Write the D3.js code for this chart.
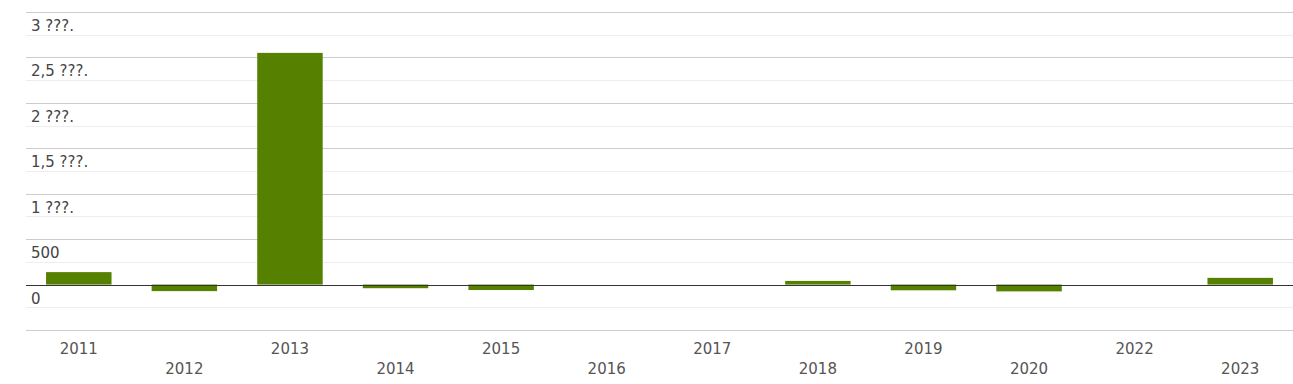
<!DOCTYPE html>
<html>
<head>
<meta charset="utf-8">
<script src="https://cdn.jsdelivr.net/npm/d3@7"></script>
<style>
  body { margin: 0; background: #fff; }
  text { font-family: "DejaVu Sans", sans-serif; }
</style>
</head>
<body>
<script>
// values
var years = ["2011", "2012", "2013", "2014", "2015", "2016", "2017", "2018", "2019", "2020", "2022", "2023"];
var values = [137, -72, 2550, -40, -60, 0, 0, 40, -63, -75, 0, 74];
var majorTicks = [-500, 0, 500, 1000, 1500, 2000, 2500, 3000];
var minorTicks = [-250, 250, 750, 1250, 1750, 2250, 2750];
var tickLabels = ["", "0", "500", "1 ???.", "1,5 ???.", "2 ???.", "2,5 ???.", "3 ???."];

var W = 1293, H = 384;
var margin = {left: 26, right: 0, top: 12, bottom: 54};

var svg = d3.select("body").append("svg")
            .attr("width", W)
            .attr("height", H);

var x = d3.scaleBand()
          .domain(years)
          .range([margin.left, W - margin.right])
          .paddingInner(0.38)
          .paddingOuter(0.19);

var y = d3.scaleLinear()
          .domain([-500, 3000])
          .range([H - margin.bottom, margin.top]);

// minor grid
svg.append("g").selectAll("line")
   .data(minorTicks).enter().append("line")
   .attr("x1", margin.left).attr("x2", W)
   .attr("y1", function(d) { return Math.round(y(d)) + 0.5; })
   .attr("y2", function(d) { return Math.round(y(d)) + 0.5; })
   .attr("stroke", "#eeeeee");

// major grid
svg.append("g").selectAll("line")
   .data(majorTicks.filter(function(d) { return d != 0; })).enter().append("line")
   .attr("x1", margin.left).attr("x2", W)
   .attr("y1", function(d) { return Math.round(y(d)) + 0.5; })
   .attr("y2", function(d) { return Math.round(y(d)) + 0.5; })
   .attr("stroke", "#cccccc");

// bars
svg.append("g").selectAll("rect")
   .data(values).enter().append("rect")
   .attr("x", function(d, i) { return x(years[i]); })
   .attr("width", x.bandwidth())
   .attr("y", function(d) { return y(Math.max(0, d)); })
   .attr("height", function(d) { return Math.abs(y(d) - y(0)); })
   .attr("fill", "#558000");

// zero line
svg.append("line")
   .attr("x1", margin.left).attr("x2", W)
   .attr("y1", Math.round(y(0)) + 0.5).attr("y2", Math.round(y(0)) + 0.5)
   .attr("stroke", "#333333");

// y labels
svg.append("g").selectAll("text")
   .data(majorTicks).enter().append("text")
   .attr("x", 31)
   .attr("y", function(d) { return y(d) + 19; })
   .attr("font-size", "15px")
   .attr("fill", "#444444")
   .text(function(d, i) { return tickLabels[i]; });

// x labels, alternating rows
svg.append("g").selectAll("text")
   .data(years).enter().append("text")
   .attr("x", function(d) { return x(d) + x.bandwidth() / 2; })
   .attr("y", function(d, i) { return i % 2 == 0 ? 354 : 374; })
   .attr("text-anchor", "middle")
   .attr("font-size", "15px")
   .attr("fill", "#555555")
   .text(function(d) { return d; });
</script>
</body>
</html>
